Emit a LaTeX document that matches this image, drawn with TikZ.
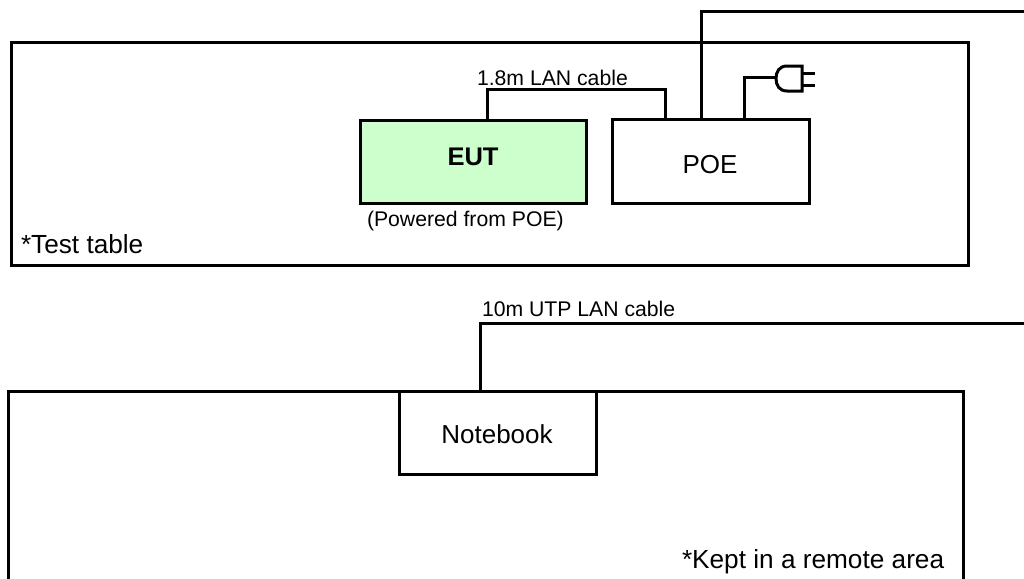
\documentclass[tikz,border=0pt]{standalone}
\usepackage{fontspec}
\setmainfont{Liberation Sans}
\definecolor{eutgreen}{RGB}{204,255,204}
\tikzset{
  wire/.style={draw=black,line width=3pt,line join=miter},
  boxnode/.style={draw=black,line width=3pt,inner sep=0pt,outer sep=0pt,anchor=north west},
  label big/.style={font=\fontsize{26}{28}\selectfont,inner sep=0pt,outer sep=0pt,anchor=base},
  label bold/.style={font=\fontsize{25.5}{28}\selectfont\bfseries,inner sep=0pt,outer sep=0pt,anchor=base},
  label note/.style={font=\fontsize{26.2}{28}\selectfont,inner sep=0pt,outer sep=0pt,anchor=base west},
  label small/.style={font=\fontsize{21.2}{24}\selectfont,inner sep=0pt,outer sep=0pt,anchor=base west},
}
\begin{document}
\begin{tikzpicture}[x=1pt,y=-1pt]
\useasboundingbox (0,0) rectangle (1024,578);
\fill[white] (0,0) rectangle (1024,578);
\begin{scope}
\clip (0,0) rectangle (1024,578);
% tables
\node[boxnode,minimum width=957pt,minimum height=222pt] (table) at (11,43) {};
\node[boxnode,minimum width=955pt,minimum height=240pt] (remote) at (8,391) {};
% devices
\node[boxnode,fill=eutgreen,minimum width=226pt,minimum height=83pt] (eut) at (360,120) {};
\node[boxnode,fill=white,minimum width=197pt,minimum height=84pt] (poe) at (612,119) {};
\node[boxnode,fill=white,minimum width=197pt,minimum height=83pt] (nb) at (399,391) {};
% free ends and bends
\coordinate (lanEut) at (487,120);
\coordinate (lanPoe) at (665,119);
\coordinate (lanTop) at (487,89);
\coordinate (upPoe) at (701,119);
\coordinate (upEnd) at (1026,12);
\coordinate (pwrPoe) at (744,119);
\coordinate (plugIn) at (776,77);
\coordinate (nbUp) at (480,391);
\coordinate (nbEnd) at (1026,323);
% connectors
\draw[wire] (lanEut) -- (lanTop) -| (lanPoe);
\draw[wire] (upPoe) |- (upEnd);
\draw[wire] (nbUp) |- (nbEnd);
\draw[wire] (pwrPoe) |- (plugIn);
% plug
\draw[wire] (802,66) -- (787,66) .. controls (779,66) and (776,72) .. (776,78.5)
  .. controls (776,85) and (779,91) .. (787,91) -- (802,91) -- cycle;
\draw[wire] (802,73) -- (815,73);
\draw[wire] (802,85) -- (815,85);
\end{scope}
% labels
\node[label bold] (eutT) at (473,165) {EUT};
\node[label big] (poeT) at (710,173) {POE};
\node[label big] (nbT) at (497,443) {Notebook};
\node[label note] (tt) at (21,253) {*Test table};
\node[label note] (kr) at (682,568) {*Kept in a remote area};
\node[label small] (l18) at (477,85) {1.8m LAN cable};
\node[label small] (lpw) at (367,226) {(Powered from POE)};
\node[label small] (l10) at (482,316) {10m UTP LAN cable};
\end{tikzpicture}
\end{document}
